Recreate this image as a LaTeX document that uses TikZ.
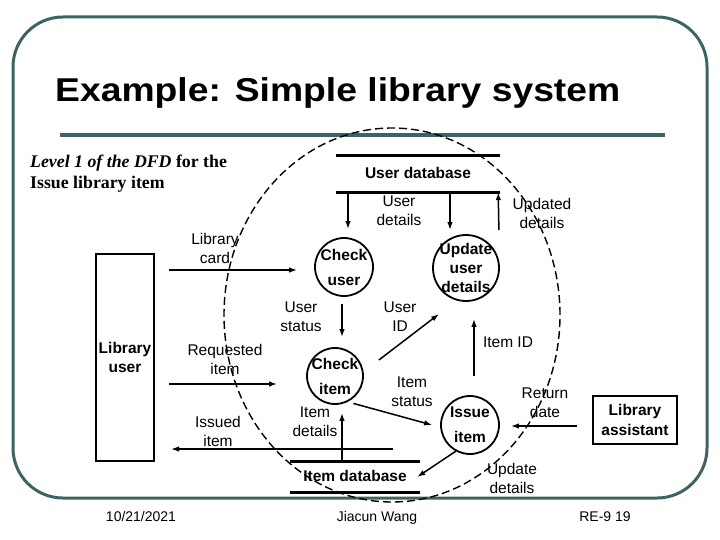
\documentclass[tikz,border=0pt]{standalone}
\usepackage{fontspec}
\setmainfont{Liberation Serif}
\setsansfont{Liberation Sans}
\usepackage{graphicx}
\usetikzlibrary{arrows.meta, calc}
\definecolor{frameteal}{RGB}{62,99,99}

\tikzset{
  proc/.style={circle, draw, line width=1.8pt, minimum size=58pt, inner sep=-8pt, align=center,
    font=\sffamily\bfseries\fontsize{15.5}{25}\selectfont},
  extent/.style={rectangle, draw, line width=2pt, inner sep=0pt, align=center,
    font=\sffamily\bfseries\fontsize{15.5}{19}\selectfont},
  store/.style={inner sep=0pt, font=\sffamily\bfseries\fontsize{15.5}{19}\selectfont},
  storeline/.style={line width=3pt},
  flow/.style={-{Latex[length=8pt,width=5.5pt]}, line width=1.5pt},
  lbl/.style={align=center, inner sep=0pt, font=\sffamily\fontsize{15.5}{19}\selectfont},
  foot/.style={anchor=base, inner sep=0pt, font=\sffamily\fontsize{14}{16}\selectfont},
}

\begin{document}
\begin{tikzpicture}[x=1pt, y=-1pt]
    \useasboundingbox (0,0) rectangle (720,540);
    % slide frame and title
    \draw[frameteal, line width=3pt, rounded corners=50pt] (13,17) rectangle (707,498);
    \draw[frameteal, line width=4pt] (60,135) -- (665,135);
    \node (title) [anchor=base west, inner sep=0pt, font=\sffamily\bfseries\fontsize{33}{38}\selectfont] at (55,102)
        {\scalebox{1.13}[1]{Example: Simple library system}};
    \node (level) [anchor=west, inner sep=0pt, align=left, font=\bfseries\fontsize{17.8}{21}\selectfont] at (30,173.5)
        {\textit{Level 1 of the DFD} for the\\Issue library item};

    % system boundary
    \draw[line width=1.4pt, dash pattern=on 8pt off 4pt] (392,315) ellipse [x radius=168pt, y radius=187pt];

    % processes, entities and stores
    \node (cu) [proc] at (344,267) {Check\\user};
    \node (uud) [proc, minimum size=66pt, font=\sffamily\bfseries\fontsize{15.5}{19}\selectfont] at (466,268) {Update\\user\\details};
    \node (ci) [proc, minimum size=56pt] at (335,376) {Check\\item};
    \node (ii) [proc] at (470,425) {Issue\\item};
    \node (lu) [extent, minimum width=58pt, minimum height=207pt] at (125,357.5) {Library\\user};
    \node (la) [extent, minimum width=84pt, minimum height=48pt, font=\sffamily\bfseries\fontsize{15.5}{20}\selectfont] at (635,420) {Library\\assistant};
    \node (udb) [store, minimum width=164pt, minimum height=36pt] at (418,174) {\raisebox{2pt}{User database}};
    \node (idb) [store, minimum width=130pt, minimum height=30pt] at (355,477) {\raisebox{3pt}{Item database}};
    \draw[storeline] (udb.north west) -- (udb.north east);
    \draw[storeline] (udb.south west) -- (udb.south east);
    \draw[storeline] (idb.north west) -- (idb.north east);
    \draw[storeline] (idb.south west) -- (idb.south east);

    % flows
    \coordinate (isout) at (393,449);
    \draw[flow] ($(lu.east |- cu)+(14,3)$) -- ($(cu.west)+(-17,3)$);
    \draw[flow] ($(lu.east |- ci)+(14,8)$) -- ($(ci.west)+(-29,8)$);
    \draw[flow] (isout) -- ($(lu.east |- isout)+(16,0)$);
    \draw[flow] ($(udb.south -| cu)+(4,0)$) -- ($(cu.north)+(4,-8)$);
    \draw[flow] ($(udb.south -| uud)+(-16,0)$) -- ($(uud.north)+(-16,-4)$);
    \draw[flow] ($(uud.east)+(-1,-38)$) -- ($(udb.south east)+(-2,0)$);
    \draw[flow] ($(cu.south)+(-2,7)$) -- ($(cu.south |- ci.north)+(-2,-10)$);
    \draw[flow] ($(ci.east)+(15,-16)$) -- ($(uud.south west)+(-3,22)$);
    \draw[flow] ($(ii.north)+(4,-19)$) -- ($(uud.south)+(8,17)$);
    \draw[flow] ($(ci.south east)+(-2,7)$) -- ($(ii.west)+(-8,0)$);
    \draw[flow] ($(idb.north -| ci)+(7,0)$) -- ($(ci.south)+(7,8)$);
    \draw[flow] ($(ii.south west)+(7,5)$) -- ($(idb.east)+(-3,0)$);
    \draw[flow] ($(la.west)+(-15,6)$) -- ($(ii.east)+(11,1)$);

    % flow labels
    \node (lcard) [lbl] at (215,248) {Library\\card};
    \node (lreq) [lbl] at (225,359) {Requested\\item};
    \node (liss) [lbl] at (218,431) {Issued\\item};
    \node (lud) [lbl] at (399,211) {User\\details};
    \node (lupd) [lbl] at (542,213) {Updated\\details};
    \node (lus) [lbl] at (301,317) {User\\status};
    \node (luid) [lbl] at (400,317) {User\\ID};
    \node (liid) [lbl] at (508,342) {Item ID};
    \node (list) [lbl] at (412,392) {Item\\status};
    \node (lidt) [lbl] at (315,422) {Item\\details};
    \node (lret) [lbl] at (545,403) {Return\\date};
    \node (lupdd) [lbl] at (512,478) {Update\\details};

    % footer
    \node (date) [foot] at (141,521) {10/21/2021};
    \node (auth) [foot] at (377,521) {Jiacun Wang};
    \node (page) [foot] at (605,521) {RE-9 19};
\end{tikzpicture}
\end{document}
